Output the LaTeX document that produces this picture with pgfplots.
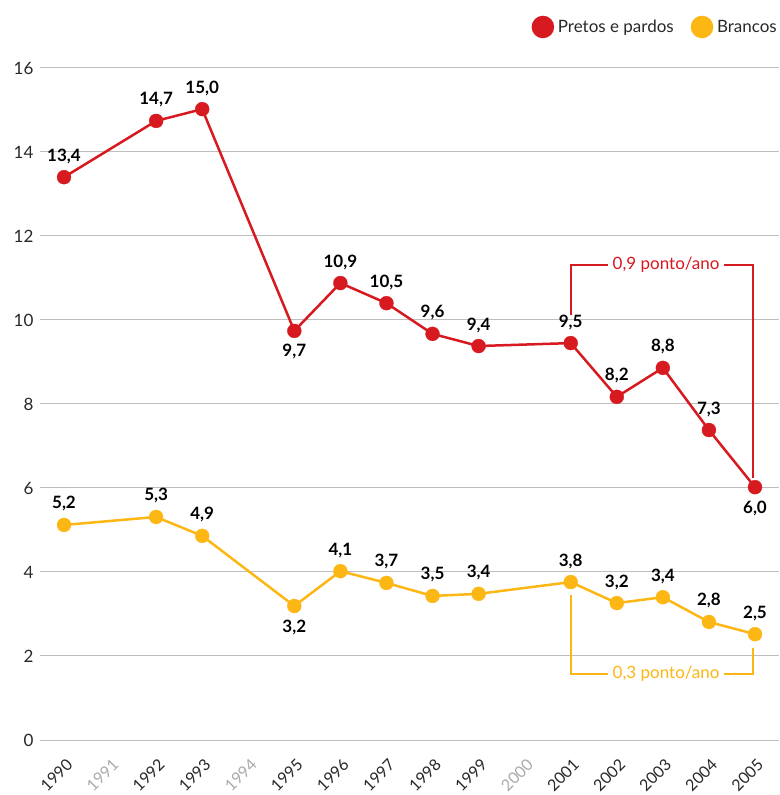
\documentclass[border=0pt]{standalone}
\usepackage{pgfplots}
\pgfplotsset{compat=1.18}
\usepackage{fontspec}
\setmainfont{Lato}
\definecolor{cred}{RGB}{215,25,32}
\definecolor{cyel}{RGB}{252,183,20}
\definecolor{cgrid}{RGB}{190,190,190}
\definecolor{ctxt}{RGB}{40,40,40}
\definecolor{cgrey}{RGB}{170,170,170}
\newcommand{\fs}{\fontsize{17}{20}\selectfont}

\pgfplotstableread{
x y l
1990 13.40 13,4
1992 14.74 14,7
1993 15.02 15,0
1996 10.88 10,9
1997 10.40 10,5
1998 9.67 9,6
1999 9.38 9,4
2001 9.45 9,5
2002 8.17 8,2
2003 8.86 8,8
2004 7.38 7,3
}\redabove
\pgfplotstableread{
x y l
1995 9.74 9,7
2005 6.02 6,0
}\redbelow
\pgfplotstableread{
x y l
1990 5.12 5,2
1992 5.31 5,3
1993 4.86 4,9
1996 4.02 4,1
1997 3.74 3,7
1998 3.43 3,5
1999 3.48 3,4
2001 3.76 3,8
2002 3.26 3,2
2003 3.40 3,4
2004 2.81 2,8
2005 2.52 2,5
}\yelabove
\pgfplotstableread{
x y l
1995 3.19 3,2
}\yelbelow

\begin{document}
\begin{tikzpicture}
\useasboundingbox (-40pt,-55pt) rectangle (739pt,740pt);
\begin{axis}[
  width=739pt, height=672pt, scale only axis,
  xmin=1989.479, xmax=2005.521, ymin=0, ymax=16,
  clip=false,
  xtick={1990,...,2005},
  xticklabels={1990,\textcolor{cgrey}{1991},1992,1993,\textcolor{cgrey}{1994},1995,1996,1997,1998,1999,\textcolor{cgrey}{2000},2001,2002,2003,2004,2005},
  ytick={0,2,...,16},
  ymajorgrids,
  grid style={cgrid, line width=1pt},
  axis line style={draw=none},
  major tick length=0pt,
  /pgf/number format/assume math mode=true,
  tick label style={font=\fs, text=ctxt},
  yticklabel style={xshift=-3pt},
  xticklabel style={rotate=45, anchor=north east, font=\fontsize{16}{19}\selectfont, xshift=-8pt, yshift=-10pt},
  legend style={at={(1,1)}, anchor=east, yshift=41pt, draw=none, fill=none,
    inner sep=0pt, font=\fs, text=ctxt,
    /tikz/every even column/.append style={column sep=15pt}},
  legend columns=2,
  legend image code/.code={\fill[#1] (0pt,0pt) circle (10pt); \path[draw=none,fill=none] (-10pt,0pt) (13pt,0pt);},
  every node near coord/.append style={font=\fs\bfseries, text=black, anchor=center},
]
\addplot[cred, line width=2.5pt, mark=*, mark size=7pt, mark options={solid, line width=0.3pt}]
  coordinates {(1990,13.40) (1992,14.74) (1993,15.02) (1995,9.74) (1996,10.88) (1997,10.40) (1998,9.67) (1999,9.38) (2001,9.45) (2002,8.17) (2003,8.86) (2004,7.38) (2005,6.02)};
\addlegendentry{Pretos e pardos}
\addplot[cyel, line width=2.5pt, mark=*, mark size=7pt, mark options={solid, line width=0.3pt}]
  coordinates {(1990,5.12) (1992,5.31) (1993,4.86) (1995,3.19) (1996,4.02) (1997,3.74) (1998,3.43) (1999,3.48) (2001,3.76) (2002,3.26) (2003,3.40) (2004,2.81) (2005,2.52)};
\addlegendentry{Brancos}

\addplot[forget plot, draw=none, mark=none, nodes near coords, point meta=explicit symbolic,
  every node near coord/.append style={yshift=21pt}] table[x=x, y=y, meta=l] {\redabove};
\addplot[forget plot, draw=none, mark=none, nodes near coords, point meta=explicit symbolic,
  every node near coord/.append style={yshift=-21pt}] table[x=x, y=y, meta=l] {\redbelow};
\addplot[forget plot, draw=none, mark=none, nodes near coords, point meta=explicit symbolic,
  every node near coord/.append style={yshift=21pt}] table[x=x, y=y, meta=l] {\yelabove};
\addplot[forget plot, draw=none, mark=none, nodes near coords, point meta=explicit symbolic,
  every node near coord/.append style={yshift=-21pt}] table[x=x, y=y, meta=l] {\yelbelow};

\draw[cred, line width=2pt] (axis cs:2001,10.12) |- (axis cs:2004.95,11.31) -- (axis cs:2004.95,6.24);
\node[fill=white, text=cred, font=\fs, inner sep=5pt] at (axis cs:2003.07,11.31) {0,9 ponto/ano};
\draw[cyel, line width=2pt] (axis cs:2001,3.45) |- (axis cs:2004.95,1.57) -- (axis cs:2004.95,2.19);
\node[fill=white, text=cyel, font=\fs, inner sep=5pt] at (axis cs:2003.07,1.57) {0,3 ponto/ano};
\end{axis}
\end{tikzpicture}
\end{document}
